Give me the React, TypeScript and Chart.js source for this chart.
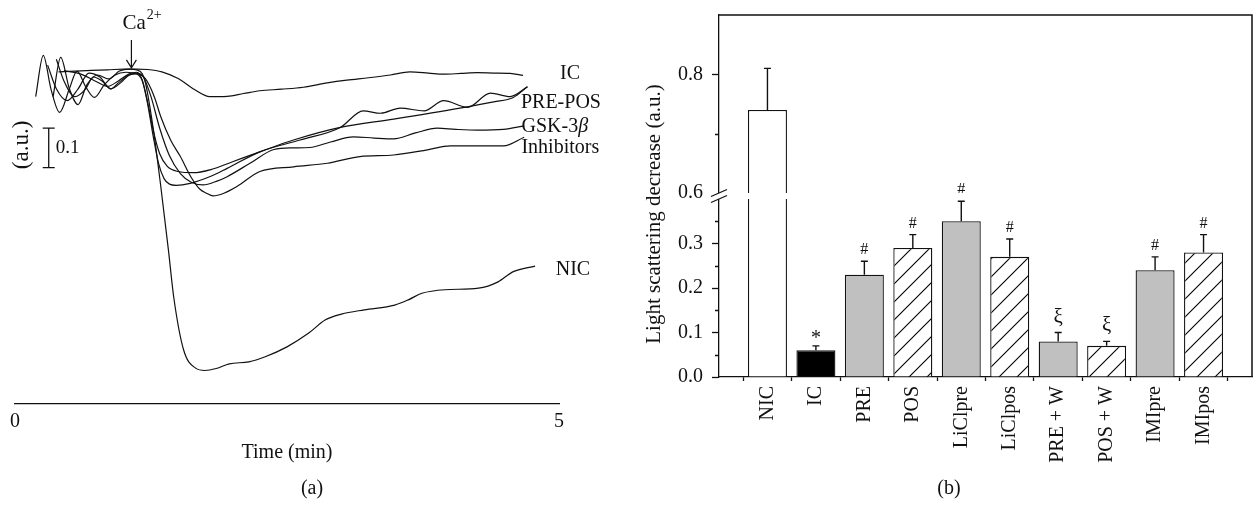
import { useEffect, useRef } from 'react';
import { Chart, registerables, LinearScale } from 'chart.js';

Chart.register(...registerables);

const SERIF = "'Liberation Serif', 'Times New Roman', serif";
const INK = '#111';

// ---------- Panel (a): light-scattering traces (time in min, signal in a.u.) ----------
const IC_T = [0.40, 0.55, 0.70, 0.85, 1.00, 1.12, 1.22, 1.35, 1.50, 1.65, 1.79, 1.95, 2.10, 2.25, 2.45, 2.65, 2.87, 3.05, 3.25, 3.45, 3.63, 3.80, 3.94, 4.10, 4.25, 4.40, 4.55, 4.67];
const IC_V = [0.843, 0.845, 0.847, 0.848, 0.850, 0.850, 0.849, 0.843, 0.826, 0.798, 0.780, 0.781, 0.788, 0.795, 0.799, 0.804, 0.815, 0.822, 0.828, 0.835, 0.843, 0.840, 0.837, 0.839, 0.841, 0.840, 0.839, 0.834];

const PRE_T = [0.19, 0.26, 0.33, 0.41, 0.50, 0.57, 0.65, 0.73, 0.82, 0.92, 1.02, 1.12, 1.17, 1.22, 1.27, 1.32, 1.37, 1.42, 1.48, 1.61, 1.80, 1.95, 2.25, 2.62, 2.99, 3.20, 3.36, 3.54, 3.76, 3.94, 4.16, 4.37, 4.55, 4.71];
const PRE_V = [0.780, 0.885, 0.800, 0.740, 0.800, 0.845, 0.805, 0.778, 0.810, 0.835, 0.842, 0.838, 0.820, 0.760, 0.680, 0.610, 0.572, 0.558, 0.555, 0.560, 0.578, 0.598, 0.640, 0.670, 0.702, 0.744, 0.738, 0.751, 0.744, 0.770, 0.753, 0.789, 0.780, 0.805];

const POS_T = [0.45, 0.60, 0.75, 0.85, 0.95, 1.05, 1.12, 1.17, 1.22, 1.27, 1.33, 1.40, 1.50, 1.64, 1.80, 2.00, 2.25, 2.56, 2.99, 3.48, 4.09, 4.40, 4.58, 4.71];
const POS_V = [0.846, 0.838, 0.818, 0.806, 0.820, 0.838, 0.842, 0.822, 0.765, 0.695, 0.635, 0.603, 0.590, 0.587, 0.595, 0.615, 0.640, 0.670, 0.702, 0.723, 0.751, 0.767, 0.778, 0.805];

const GSK_T = [0.38, 0.45, 0.55, 0.65, 0.72, 0.80, 0.88, 0.95, 1.05, 1.12, 1.18, 1.25, 1.33, 1.42, 1.52, 1.62, 1.73, 1.85, 1.95, 2.16, 2.38, 2.55, 2.71, 2.90, 3.11, 3.30, 3.48, 3.68, 3.88, 4.05, 4.25, 4.49, 4.68];
const GSK_V = [0.875, 0.820, 0.780, 0.800, 0.830, 0.820, 0.800, 0.815, 0.835, 0.840, 0.830, 0.780, 0.700, 0.630, 0.585, 0.563, 0.556, 0.565, 0.577, 0.611, 0.646, 0.650, 0.651, 0.665, 0.678, 0.675, 0.673, 0.688, 0.700, 0.697, 0.695, 0.697, 0.706];

const INH_T = [0.30, 0.38, 0.48, 0.58, 0.68, 0.78, 0.88, 0.97, 1.05, 1.12, 1.20, 1.28, 1.34, 1.43, 1.52, 1.62, 1.70, 1.76, 1.82, 1.92, 2.04, 2.25, 2.56, 2.87, 3.17, 3.48, 3.79, 4.00, 4.25, 4.49, 4.68];
const INH_V = [0.860, 0.800, 0.770, 0.800, 0.840, 0.830, 0.800, 0.815, 0.835, 0.838, 0.825, 0.780, 0.729, 0.670, 0.628, 0.575, 0.545, 0.535, 0.528, 0.535, 0.552, 0.590, 0.602, 0.611, 0.628, 0.632, 0.645, 0.655, 0.655, 0.655, 0.677];

const NIC_T = [0.35, 0.42, 0.50, 0.58, 0.66, 0.76, 0.86, 0.96, 1.05, 1.12, 1.17, 1.20, 1.27, 1.34, 1.41, 1.46, 1.55, 1.66, 1.745, 1.85, 1.97, 2.15, 2.30, 2.50, 2.70, 2.85, 3.00, 3.21, 3.49, 3.62, 3.74, 3.95, 4.26, 4.44, 4.58, 4.78];
const NIC_V = [0.780, 0.880, 0.800, 0.760, 0.810, 0.835, 0.825, 0.845, 0.850, 0.848, 0.838, 0.814, 0.700, 0.552, 0.391, 0.269, 0.137, 0.091, 0.085, 0.090, 0.102, 0.107, 0.120, 0.145, 0.180, 0.213, 0.228, 0.239, 0.251, 0.265, 0.281, 0.290, 0.294, 0.310, 0.336, 0.350];

const TIME_TICKS = [0, 5];
const CA_ADDITION_TIME = 1.07;
const SCALE_BAR = [0.6, 0.7]; // 0.1 a.u. reference bar

// ---------- Panel (b): light scattering decrease per condition ----------
const CATEGORIES = ['NIC', 'IC', 'PRE', 'POS', 'LiClpre', 'LiClpos', 'PRE + W', 'POS + W', 'IMIpre', 'IMIpos'];
const MEANS = [0.74, 0.06, 0.23, 0.29, 0.35, 0.27, 0.08, 0.07, 0.24, 0.28];
const ERRORS = [0.07, 0.01, 0.03, 0.03, 0.045, 0.04, 0.02, 0.01, 0.03, 0.04];
const MARKS = ['', '*', '#', '#', '#', '#', 'ξ', 'ξ', '#', '#'];
const FILL_KIND = ['open', 'solid', 'gray', 'hatch', 'gray', 'hatch', 'gray', 'hatch', 'gray', 'hatch'];
const Y_TICKS = [0, 0.05, 0.1, 0.15, 0.2, 0.25, 0.3, 0.35, 0.6, 0.7, 0.8];
const Y_LABELED = [0, 0.1, 0.2, 0.3, 0.6, 0.8];

// broken value axis: [0, 0.4] below the break, [0.6, 0.9] above it
const BREAK_LOW = 0.4;
const BREAK_HIGH = 0.6;
const LOWER_SHARE = 178 / 362;
const GAP_SHARE = 6 / 362;

class BrokenLinearScale extends LinearScale {
  static id = 'brokenLinear';
  static defaults = LinearScale.defaults;

  getPixelForValue(value: any) {
    if (value === null || value === undefined || isNaN(value)) return NaN;
    const s: any = this;
    const h = s.bottom - s.top;
    const low = h * LOWER_SHARE;
    const gap = h * GAP_SHARE;
    const up = h - low - gap;
    if (value <= BREAK_LOW) return s.bottom - ((value - s.min) / (BREAK_LOW - s.min)) * low;
    if (value >= BREAK_HIGH) return s.top + ((s.max - value) / (s.max - BREAK_HIGH)) * up;
    return s.bottom - low - gap / 2;
  }

  getValueForPixel(pixel: number) {
    const s: any = this;
    const h = s.bottom - s.top;
    const low = h * LOWER_SHARE;
    const gap = h * GAP_SHARE;
    const up = h - low - gap;
    if (pixel >= s.bottom - low) return s.min + ((s.bottom - pixel) / low) * (BREAK_LOW - s.min);
    if (pixel <= s.top + up) return s.max - ((pixel - s.top) / up) * (s.max - BREAK_HIGH);
    return (BREAK_LOW + BREAK_HIGH) / 2;
  }
}
Chart.register(BrokenLinearScale as any);

Chart.defaults.font.family = SERIF;
Chart.defaults.color = INK;

function font(size: number, italic = false) {
  return `${italic ? 'italic ' : ''}${size}px ${SERIF}`;
}

function pts(t: number[], v: number[]) {
  return t.map((x, i) => ({ x, y: v[i] }));
}

function makeHatch(): any {
  const s = 18;
  const c = document.createElement('canvas');
  c.width = s;
  c.height = s;
  const g = c.getContext('2d');
  if (!g) return '#fff';
  g.fillStyle = '#fff';
  g.fillRect(0, 0, s, s);
  g.strokeStyle = '#000';
  g.lineWidth = 1.1;
  g.beginPath();
  g.moveTo(-2, s + 2);
  g.lineTo(s + 2, -2);
  g.moveTo(-2, 2);
  g.lineTo(2, -2);
  g.moveTo(s - 2, s + 2);
  g.lineTo(s + 2, s - 2);
  g.stroke();
  return g.createPattern(c, 'repeat') || '#fff';
}

// Annotations of panel (a): Ca2+ arrow, scale bar, trace names, panel letter
const tracesAnnotations = {
  id: 'tracesAnnotations',
  afterDraw(chart: any) {
    const { ctx, scales } = chart;
    const x = scales.x;
    const y = scales.y;
    ctx.save();
    ctx.fillStyle = INK;
    ctx.strokeStyle = INK;

    // Ca2+ addition arrow
    const ax = x.getPixelForValue(CA_ADDITION_TIME);
    const aTop = y.getPixelForValue(0.924);
    const aTip = y.getPixelForValue(0.853);
    ctx.lineWidth = 1.2;
    ctx.beginPath();
    ctx.moveTo(ax, aTop);
    ctx.lineTo(ax, aTip);
    ctx.moveTo(ax - 5, aTip - 8);
    ctx.lineTo(ax, aTip);
    ctx.lineTo(ax + 5, aTip - 8);
    ctx.stroke();
    ctx.textBaseline = 'alphabetic';
    ctx.textAlign = 'left';
    ctx.font = font(21);
    ctx.fillText('Ca', ax - 9, 29);
    const caW = ctx.measureText('Ca').width;
    ctx.font = font(14);
    ctx.fillText('2+', ax - 9 + caW + 1, 19);

    // 0.1 a.u. scale bar
    const bx = x.getPixelForValue(0.31);
    const b0 = y.getPixelForValue(SCALE_BAR[0]);
    const b1 = y.getPixelForValue(SCALE_BAR[1]);
    ctx.lineWidth = 1.3;
    ctx.beginPath();
    ctx.moveTo(bx, b0);
    ctx.lineTo(bx, b1);
    ctx.moveTo(bx - 6, b0);
    ctx.lineTo(bx + 6, b0);
    ctx.moveTo(bx - 6, b1);
    ctx.lineTo(bx + 6, b1);
    ctx.stroke();
    ctx.font = font(19);
    ctx.textBaseline = 'middle';
    ctx.fillText('0.1', bx + 7, (b0 + b1) / 2);
    ctx.save();
    ctx.translate(22, (b0 + b1) / 2 - 3);
    ctx.rotate(-Math.PI / 2);
    ctx.textAlign = 'center';
    ctx.font = font(23);
    ctx.fillText('(a.u.)', 0, 0);
    ctx.restore();

    // trace names at the right-hand ends
    ctx.font = font(20);
    ctx.textAlign = 'left';
    ctx.textBaseline = 'middle';
    ctx.fillText('IC', x.getPixelForValue(5.01), y.getPixelForValue(0.838));
    ctx.fillText('PRE-POS', x.getPixelForValue(4.65), y.getPixelForValue(0.764));
    const gx = x.getPixelForValue(4.655);
    const gy = y.getPixelForValue(0.703);
    ctx.fillText('GSK-3', gx, gy);
    const gw = ctx.measureText('GSK-3').width;
    ctx.font = font(20, true);
    ctx.fillText('β', gx + gw, gy);
    ctx.font = font(20);
    ctx.fillText('Inhibitors', x.getPixelForValue(4.655), y.getPixelForValue(0.650));
    ctx.fillText('NIC', x.getPixelForValue(4.97), y.getPixelForValue(0.340));

    ctx.textAlign = 'center';
    ctx.fillText('(a)', 312, 489);
    ctx.restore();
  },
};

// Error bars, significance marks, axis break, frame and panel letter of panel (b)
const barAnnotations = {
  id: 'barAnnotations',
  afterDatasetsDraw(chart: any) {
    const { ctx, scales } = chart;
    const x = scales.x;
    const y = scales.y;
    ctx.save();
    ctx.strokeStyle = INK;
    ctx.fillStyle = INK;
    ctx.lineWidth = 1.4;
    MEANS.forEach((m, i) => {
      const px = x.getPixelForValue(i);
      const y0 = y.getPixelForValue(m);
      const y1 = y.getPixelForValue(m + ERRORS[i]);
      ctx.beginPath();
      ctx.moveTo(px, y0);
      ctx.lineTo(px, y1);
      ctx.moveTo(px - 3.5, y1);
      ctx.lineTo(px + 3.5, y1);
      ctx.stroke();
      const mark = MARKS[i];
      if (!mark) return;
      ctx.textAlign = 'center';
      ctx.textBaseline = 'alphabetic';
      if (mark === '#') {
        ctx.font = font(16);
        ctx.fillText(mark, px, y1 - 7);
      } else if (mark === '*') {
        ctx.font = font(20);
        ctx.fillText(mark, px, y1 - 2);
      } else {
        ctx.font = font(21);
        ctx.fillText(mark, px, y1 - 10);
      }
    });
    ctx.restore();
  },
  afterDraw(chart: any) {
    const { ctx, chartArea, scales } = chart;
    const y = scales.y;
    const { left, right, top, bottom } = chartArea;
    ctx.save();
    ctx.strokeStyle = INK;

    // minor ticks (shorter than the labelled ones)
    ctx.lineWidth = 1.3;
    ctx.beginPath();
    Y_TICKS.forEach((v) => {
      if (Y_LABELED.includes(v)) return;
      const py = Math.round(y.getPixelForValue(v)) + 0.5;
      ctx.moveTo(left - 4, py);
      ctx.lineTo(left, py);
    });
    ctx.stroke();

    // axis break
    const gLow = y.getPixelForValue(BREAK_LOW);
    const gHigh = y.getPixelForValue(BREAK_HIGH);
    ctx.fillStyle = '#fff';
    ctx.fillRect(left - 10, gHigh, right - left + 8, gLow - gHigh);
    ctx.lineWidth = 1.2;
    ctx.beginPath();
    ctx.moveTo(left - 8, gLow + 3.5);
    ctx.lineTo(left + 8, gLow - 3.5);
    ctx.moveTo(left - 8, gHigh + 3.5);
    ctx.lineTo(left + 8, gHigh - 3.5);
    ctx.stroke();

    // frame: top and right sides
    ctx.lineWidth = 1.5;
    ctx.beginPath();
    ctx.moveTo(left, top);
    ctx.lineTo(right, top);
    ctx.lineTo(right, bottom);
    ctx.stroke();

    // value axis title
    ctx.fillStyle = INK;
    ctx.save();
    ctx.translate(34, 214);
    ctx.rotate(-Math.PI / 2);
    ctx.textAlign = 'center';
    ctx.textBaseline = 'middle';
    ctx.font = font(21);
    ctx.fillText('Light scattering decrease (a.u.)', 0, 0);
    ctx.restore();

    ctx.font = font(20);
    ctx.textAlign = 'center';
    ctx.textBaseline = 'middle';
    ctx.fillText('(b)', 329, 489);
    ctx.restore();
  },
};

function traceDataset(t: number[], v: number[]) {
  return {
    data: pts(t, v),
    borderColor: INK,
    borderWidth: 1.2,
    pointRadius: 0,
    fill: false,
    cubicInterpolationMode: 'monotone',
  };
}

export default function App() {
  const aRef = useRef<HTMLCanvasElement>(null);
  const bRef = useRef<HTMLCanvasElement>(null);

  useEffect(() => {
    if (!aRef.current || !bRef.current) return;

    const traces = new Chart(aRef.current, {
      type: 'line',
      data: {
        datasets: [
          traceDataset(IC_T, IC_V),
          traceDataset(PRE_T, PRE_V),
          traceDataset(POS_T, POS_V),
          traceDataset(GSK_T, GSK_V),
          traceDataset(INH_T, INH_V),
          traceDataset(NIC_T, NIC_V),
        ] as any,
      },
      options: {
        responsive: false,
        animation: false,
        events: [],
        layout: { padding: { left: 15, right: 61, top: 10, bottom: 0 } },
        plugins: { legend: { display: false }, tooltip: { enabled: false } },
        scales: {
          x: {
            type: 'linear',
            min: 0,
            max: 5,
            afterBuildTicks: (s: any) => {
              s.ticks = TIME_TICKS.map((value) => ({ value }));
            },
            afterFit: (s: any) => {
              s.height = 106;
              s.paddingLeft = 0;
              s.paddingRight = 0;
            },
            ticks: { font: { size: 20 }, padding: 6, maxRotation: 0, color: INK },
            grid: { drawOnChartArea: false, drawTicks: false },
            border: { color: INK, width: 1.3 },
            title: {
              display: true,
              text: 'Time (min)',
              font: { size: 20 },
              color: INK,
              padding: { top: 0, bottom: 45 },
            },
          },
          y: { type: 'linear', min: 0, max: 1, display: false },
        },
      } as any,
      plugins: [tracesAnnotations],
    });

    const hatch = makeHatch();
    const fills = FILL_KIND.map((k) =>
      k === 'open' ? '#ffffff' : k === 'solid' ? '#000000' : k === 'gray' ? '#c0c0c0' : hatch
    );

    const bars = new Chart(bRef.current, {
      type: 'bar',
      data: {
        datasets: [
          {
            data: MEANS.map((m, i) => ({ x: i, y: m })),
            backgroundColor: fills,
            borderColor: INK,
            borderWidth: 1.3,
            barPercentage: 0.805,
            categoryPercentage: 1,
          },
        ] as any,
      },
      options: {
        responsive: false,
        animation: false,
        events: [],
        layout: { padding: { left: 0, right: 3, top: 15, bottom: 0 } },
        plugins: { legend: { display: false }, tooltip: { enabled: false } },
        scales: {
          x: {
            type: 'linear',
            min: -1,
            max: 10,
            offset: false,
            afterFit: (s: any) => {
              s.height = 133;
              s.paddingLeft = 0;
              s.paddingRight = 0;
            },
            ticks: {
              stepSize: 1,
              autoSkip: false,
              minRotation: 90,
              maxRotation: 90,
              padding: 5,
              font: { size: 20 },
              color: INK,
              callback: (v: any) => CATEGORIES[v] ?? '',
            },
            grid: { offset: true, drawOnChartArea: false, tickLength: 4, tickWidth: 1.3, tickColor: INK },
            border: { color: INK, width: 1.3 },
          },
          y: {
            type: 'brokenLinear',
            min: 0,
            max: 0.9,
            afterBuildTicks: (s: any) => {
              s.ticks = Y_TICKS.map((value) => ({ value }));
            },
            afterFit: (s: any) => {
              s.width = 99;
              s.paddingTop = 0;
              s.paddingBottom = 0;
            },
            ticks: {
              padding: 9,
              font: { size: 20 },
              color: INK,
              autoSkip: false,
              callback: (v: any) => (Y_LABELED.includes(v) ? Number(v).toFixed(1) : ''),
            },
            grid: {
              drawOnChartArea: false,
              tickLength: 7,
              tickWidth: 1.3,
              tickColor: (c: any) =>
                c.tick && Y_LABELED.includes(c.tick.value) && c.tick.value !== BREAK_HIGH ? INK : 'rgba(0,0,0,0)',
            },
            border: { color: INK, width: 1.3 },
          },
        },
      } as any,
      plugins: [barAnnotations],
    });

    return () => {
      traces.destroy();
      bars.destroy();
    };
  }, []);

  return (
    <div style={{ position: 'absolute', left: 0, top: 0, width: 1255, height: 510, background: '#fff' }}>
      <canvas ref={aRef} width={620} height={510} style={{ position: 'absolute', left: 0, top: 0 }} />
      <canvas ref={bRef} width={635} height={510} style={{ position: 'absolute', left: 620, top: 0 }} />
    </div>
  );
}
